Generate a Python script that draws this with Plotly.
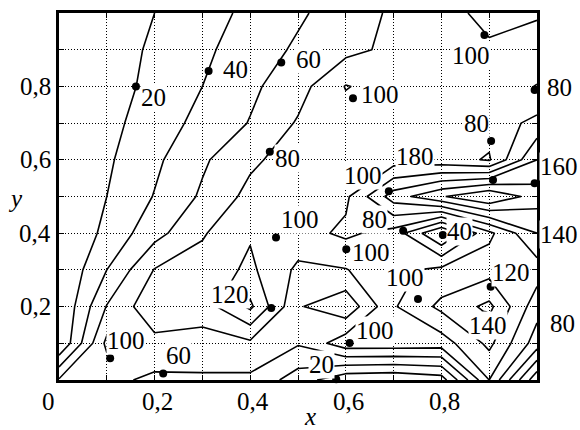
import plotly.graph_objects as go

# Grid of the measured field (x across, y up), rows run from y = 0 to y = 1
x_vals = [0.0, 0.1, 0.2, 0.3, 0.4, 0.5, 0.6, 0.7, 0.8, 0.9, 1.0]
y_vals = [0.0, 0.1, 0.2, 0.3, 0.4, 0.5, 0.6, 0.7, 0.8, 0.9, 1.0]
z_rows = [
    [62, 65, 56, 57, 56, 30, 5, 2, 10, 100, 5],
    [0, 85, 74, 72, 76, 62, 92, 92, 90, 125, 70],
    [0, 61, 95, 90, 124, 62, 45, 98, 125, 145, 88],
    [0, 40, 81, 88, 104, 76, 79, 95, 105, 112, 110],
    [0, 25, 53, 78, 98, 92, 104, 92, 38, 95, 140],
    [0, 20, 41, 63, 86, 92, 96, 150, 178, 200, 170],
    [0, 17, 36, 57, 76, 90, 92, 90, 88, 78, 140],
    [0, 14, 30, 46, 61, 82, 92, 94, 92, 88, 106],
    [0, 12, 25, 40, 56, 72, 101, 92, 94, 93, 79],
    [0, 11, 23, 36, 50, 63, 74, 85, 92, 98, 96],
    [0, 10, 20, 33, 44, 57, 70, 83, 95, 104, 101],
]
level_start, level_end, level_step = 20, 180, 20

# Contour labels: text, marker point on the line, text centre
label_text = ["20", "40", "60", "80", "100", "100", "80", "80", "180", "160",
              "100", "80", "40", "100", "140", "100", "120", "140", "80",
              "100", "120", "100", "60", "100", "20"]
label_dot_x = [0.161, 0.313, 0.465, 0.441, 0.615, 0.890, 0.995, 0.904, 0.908, 0.995,
               0.690, 0.720, 0.803, 0.601, None, 0.751, 0.903, 0.890, None,
               0.454, 0.444, 0.107, 0.218, 0.608, 0.580]
label_dot_y = [0.800, 0.842, 0.865, 0.622, 0.768, 0.940, 0.790, 0.651, 0.545, 0.536,
               0.514, 0.407, 0.395, 0.356, None, 0.221, 0.254, 0.178, None,
               0.388, 0.196, 0.059, 0.018, 0.101, 0.002]
label_x = [0.197, 0.369, 0.521, 0.478, 0.671, 0.862, 1.047, 0.873, 0.744, 1.045,
           0.636, 0.660, 0.837, 0.653, 1.047, 0.723, 0.946, 0.897, 1.054,
           0.504, 0.357, 0.140, 0.249, 0.662, 0.549]
label_y = [0.770, 0.847, 0.874, 0.604, 0.778, 0.883, 0.797, 0.700, 0.608, 0.581,
           0.558, 0.437, 0.405, 0.347, 0.396, 0.279, 0.293, 0.149, 0.153,
           0.437, 0.234, 0.108, 0.068, 0.135, 0.041]

x_ticks = [0.0, 0.2, 0.4, 0.6, 0.8]
x_tick_text = ["0", "0,2", "0,4", "0,6", "0,8"]
y_ticks = [0.2, 0.4, 0.6, 0.8]
y_tick_text = ["0,2", "0,4", "0,6", "0,8"]
grid_vals = [0.1, 0.2, 0.3, 0.4, 0.5, 0.6, 0.7, 0.8, 0.9]

FONT = "Liberation Serif, Times New Roman, serif"
FS = 25

fig = go.Figure()
fig.add_trace(go.Contour(
    x=x_vals, y=y_vals, z=z_rows,
    contours=dict(start=level_start, end=level_end, size=level_step, coloring="none"),
    line=dict(color="black", width=1.6, smoothing=0),
    showscale=False, hoverinfo="skip",
))
dx = [v for v in label_dot_x if v is not None]
dy = [v for v in label_dot_y if v is not None]
fig.add_trace(go.Scatter(
    x=dx, y=dy, mode="markers",
    marker=dict(color="black", size=8), cliponaxis=False,
    hoverinfo="skip", showlegend=False,
))

# Axis ranges are [0, 1] over the full domain, so paper and data coordinates agree
annotations = []
for t, lx, ly in zip(label_text, label_x, label_y):
    annotations.append(dict(
        x=lx, y=ly, xref="paper", yref="paper", text=t, showarrow=False,
        font=dict(family=FONT, size=FS, color="black"),
        bgcolor="white", borderpad=0, xanchor="center", yanchor="middle",
    ))
for v, t in zip(x_ticks, x_tick_text):
    annotations.append(dict(
        x=v, y=0, xref="paper", yref="paper", yshift=-21, text=t, showarrow=False,
        xshift=-11 if t == "0" else 3,
        font=dict(family=FONT, size=FS, color="black"),
        xanchor="center", yanchor="middle",
    ))
for v, t in zip(y_ticks, y_tick_text):
    annotations.append(dict(
        x=0, y=v, xref="paper", yref="paper", xshift=-6, text=t, showarrow=False,
        font=dict(family=FONT, size=FS, color="black"),
        xanchor="right", yanchor="middle",
    ))
annotations.append(dict(
    x=0, y=0.5, xref="paper", yref="paper", xshift=-44, yshift=-2,
    text="<i>y</i>", showarrow=False,
    font=dict(family=FONT, size=FS, color="black"), xanchor="center", yanchor="middle",
))
annotations.append(dict(
    x=0.525, y=0, xref="paper", yref="paper", yshift=-36,
    text="<i>x</i>", showarrow=False,
    font=dict(family=FONT, size=FS, color="black"), xanchor="center", yanchor="middle",
))

axis_common = dict(
    tickvals=grid_vals, showticklabels=False,
    showgrid=True, gridcolor="black", gridwidth=1, griddash="1px,2px",
    ticks="inside", ticklen=5, tickwidth=1, tickcolor="black",
    showline=True, linecolor="black", linewidth=2.5, mirror="ticks",
    zeroline=False,
)
fig.update_layout(
    width=580, height=430,
    margin=dict(l=59, r=43, t=10, b=50),
    paper_bgcolor="white", plot_bgcolor="white",
    showlegend=False,
    font=dict(family=FONT, size=FS, color="black"),
    xaxis=dict(range=[0, 1], **axis_common),
    yaxis=dict(range=[0, 1], **axis_common),
    annotations=annotations,
)
fig.write_html("out.html")
